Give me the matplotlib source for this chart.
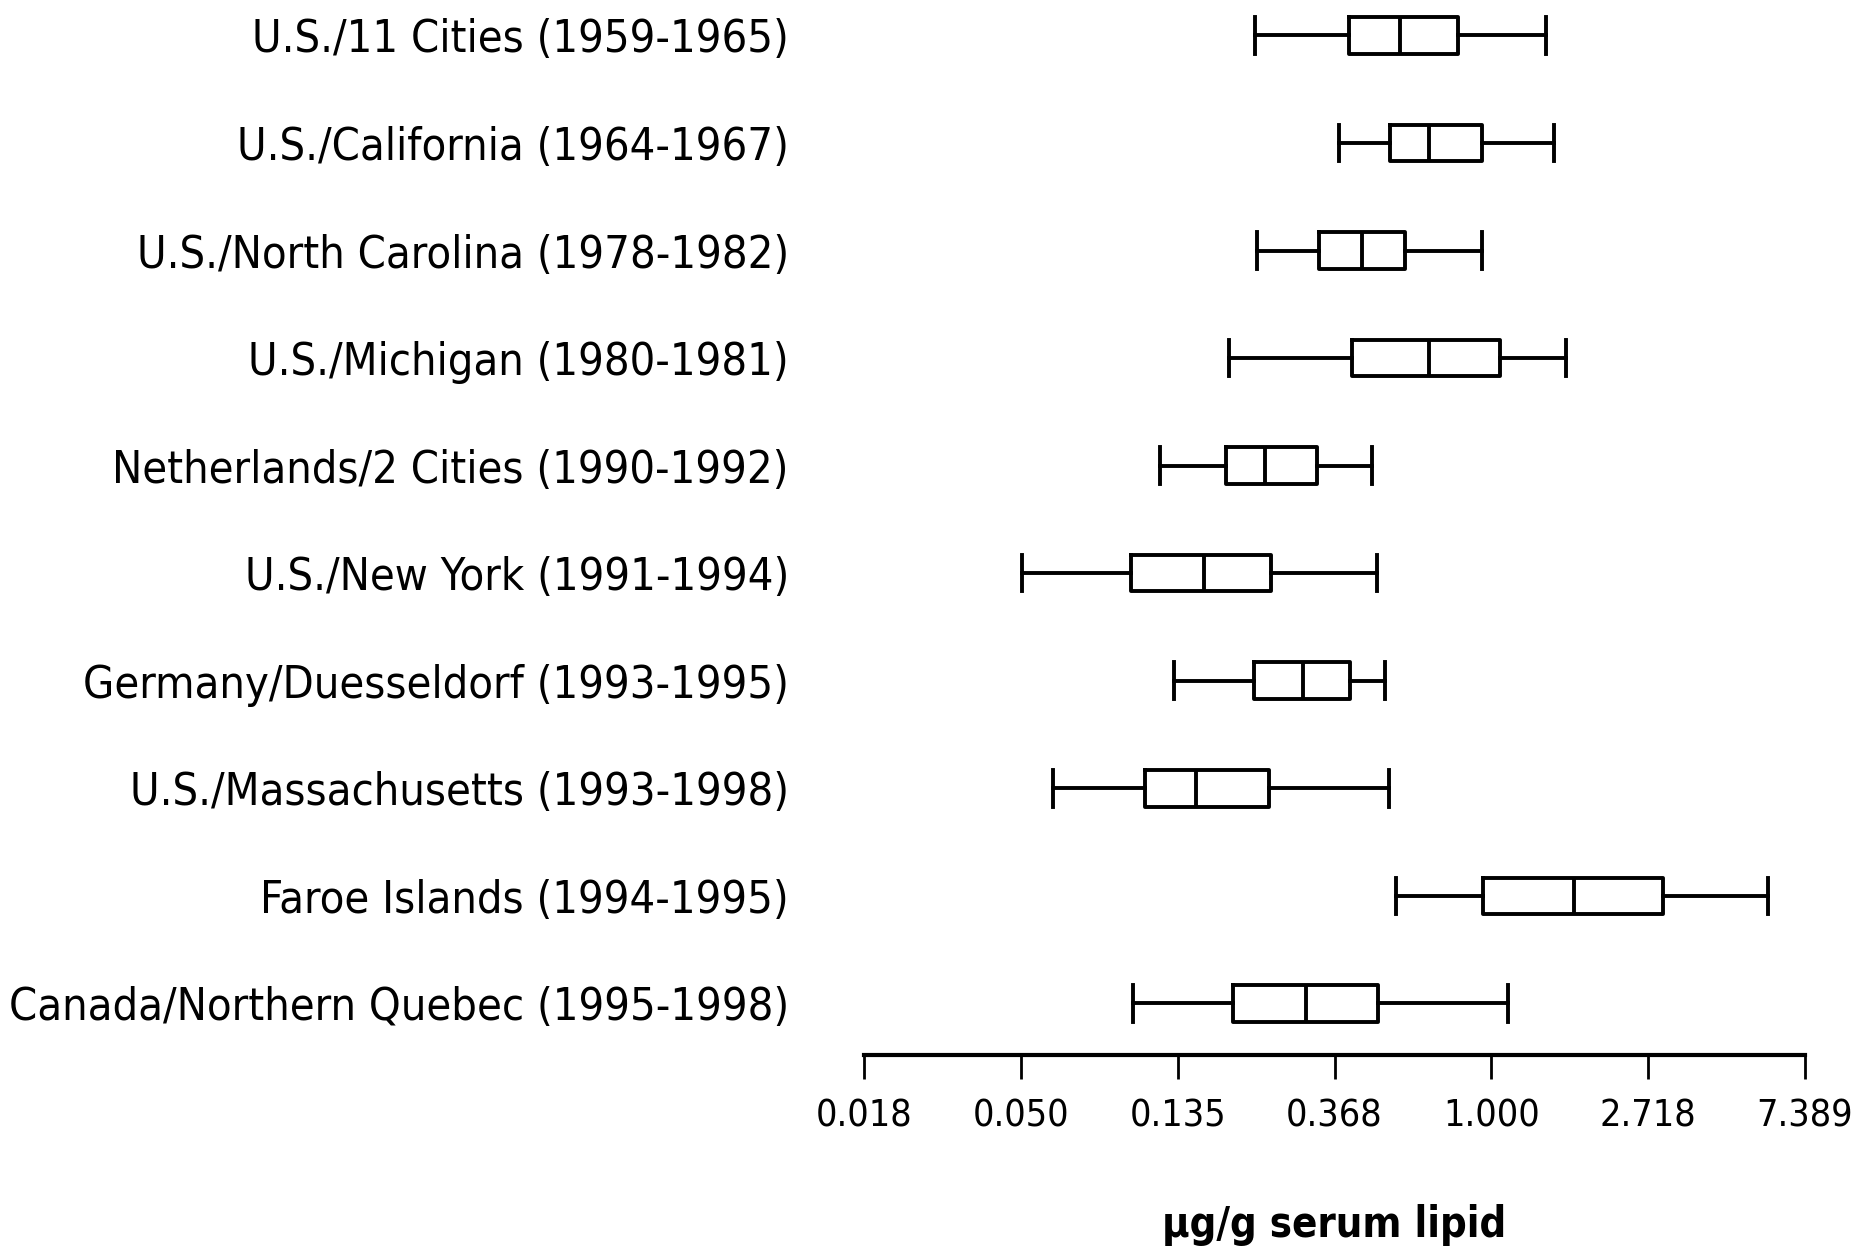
import matplotlib.pyplot as plt
import numpy as np

# study groups, top to bottom
labels = ['U.S./11 Cities (1959-1965)',
          'U.S./California (1964-1967)',
          'U.S./North Carolina (1978-1982)',
          'U.S./Michigan (1980-1981)',
          'Netherlands/2 Cities (1990-1992)',
          'U.S./New York (1991-1994)',
          'Germany/Duesseldorf (1993-1995)',
          'U.S./Massachusetts (1993-1998)',
          'Faroe Islands (1994-1995)',
          'Canada/Northern Quebec (1995-1998)']

# ug/g serum lipid: whisker low, Q1, median, Q3, whisker high
whislo = [0.222, 0.379, 0.224, 0.188, 0.121, 0.0503, 0.132, 0.0612, 0.544, 0.102]
q1     = [0.403, 0.524, 0.333, 0.411, 0.184, 0.1006, 0.220, 0.110, 0.950, 0.192]
med    = [0.560, 0.672, 0.437, 0.672, 0.236, 0.160, 0.300, 0.152, 1.697, 0.307]
q3     = [0.811, 0.943, 0.578, 1.055, 0.328, 0.245, 0.405, 0.243, 2.986, 0.486]
whishi = [1.416, 1.493, 0.943, 1.610, 0.468, 0.482, 0.508, 0.520, 5.84, 1.113]

tick_vals = np.exp(np.arange(-4, 3))

plt.rcParams['font.family'] = ['DejaVu Sans']
plt.rcParams['font.stretch'] = 'condensed'

stats = []
for i in range(len(labels)):
    stats.append(dict(whislo=whislo[i], q1=q1[i], med=med[i], q3=q3[i],
                      whishi=whishi[i], fliers=[], label=labels[i]))

fig = plt.figure(figsize=(18.53, 12.51), dpi=100)
ax = fig.add_axes([864 / 1853, 1 - 1055 / 1251, (1805 - 864) / 1853, 1055 / 1251])

lw = 2.8
pos = np.arange(1, len(labels) + 1)
ax.bxp(stats, positions=pos, vert=False, widths=0.34, capwidths=0.34,
       showfliers=False,
       boxprops=dict(color='black', linewidth=lw),
       whiskerprops=dict(color='black', linewidth=lw),
       capprops=dict(color='black', linewidth=lw),
       medianprops=dict(color='black', linewidth=lw))

ax.set_xscale('log', base=np.e)
ax.set_xlim(tick_vals[0], tick_vals[-1])
ax.set_ylim(10.48, 0.67)
ax.set_xticks(tick_vals)
ax.set_xticklabels(['%.3f' % v for v in tick_vals])
ax.xaxis.set_minor_locator(plt.NullLocator())
ax.tick_params(axis='x', length=17, width=2.0, pad=14, labelsize=27)
ax.set_yticks(pos)
ax.set_yticklabels(labels)
ax.tick_params(axis='y', length=0, pad=54, labelsize=32.4)

for s in ['top', 'right', 'left']:
    ax.spines[s].set_visible(False)
ax.spines['bottom'].set_linewidth(3.0)

ax.set_xlabel('µg/g serum lipid', fontsize=30, fontweight='bold', labelpad=50)

fig.savefig('out.png', dpi=100)
